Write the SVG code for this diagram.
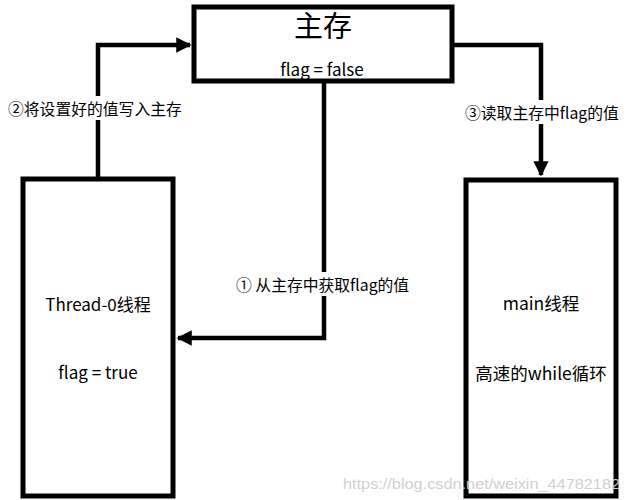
<svg xmlns="http://www.w3.org/2000/svg" width="626" height="500" viewBox="0 0 626 500">
<style>
.box{fill:#fff;stroke:#000;stroke-width:5}
.line{fill:none;stroke:#000;stroke-width:4.5}
.t{font-family:"Noto Sans CJK SC","Liberation Sans",sans-serif;fill:#000;text-anchor:middle}
.lbl{font-family:"Noto Sans CJK SC","Liberation Sans",sans-serif;fill:#000;font-size:15.8px}
.bg{fill:#fff}
</style>
<defs>
<marker id="arr" viewBox="0 0 10 10" refX="9" refY="5" markerWidth="3.4" markerHeight="3.4" orient="auto" markerUnits="strokeWidth">
<path d="M0,0 L10,5 L0,10 z" fill="#000"/>
</marker>
</defs>
<rect width="626" height="500" fill="#fff"/>
<g id="main-memory">
<rect class="box" x="194" y="7" width="258" height="74"/>
<text class="t" x="323" y="37" font-size="29">主存</text>
<text class="t" x="322" y="76" font-size="17">flag = false</text>
</g>
<g id="thread0">
<rect class="box" x="23" y="179" width="150" height="317"/>
<text class="t" x="98" y="311" font-size="17">Thread-0线程</text>
<text class="t" x="98" y="379" font-size="17">flag = true</text>
</g>
<g id="main-thread">
<rect class="box" x="466" y="180" width="150" height="316"/>
<text class="t" x="541" y="310" font-size="17.5">main线程</text>
<text class="t" x="541" y="380" font-size="17.5">高速的while循环</text>
</g>
<g id="connectors">
<path class="line" d="M324,83 L324,338 L178,338" marker-end="url(#arr)"/>
<path class="line" d="M98,177 L98,45 L190,45" marker-end="url(#arr)"/>
<path class="line" d="M454,45 L541,45 L541,175" marker-end="url(#arr)"/>
<rect class="bg" x="234" y="272" width="178" height="24"/>
<text class="lbl" x="236" y="291">① 从主存中获取flag的值</text>
<rect class="bg" x="6" y="96" width="180" height="24"/>
<text class="lbl" x="8" y="115">②将设置好的值写入主存</text>
<rect class="bg" x="463" y="100" width="158" height="24"/>
<text class="lbl" x="465" y="119">③读取主存中flag的值</text>
</g>
<text x="343" y="489" font-family="Liberation Sans, sans-serif" font-size="15.5" fill="#d0d0d0" textLength="277" lengthAdjust="spacingAndGlyphs">https://blog.csdn.net/weixin_44782182</text>
</svg>
